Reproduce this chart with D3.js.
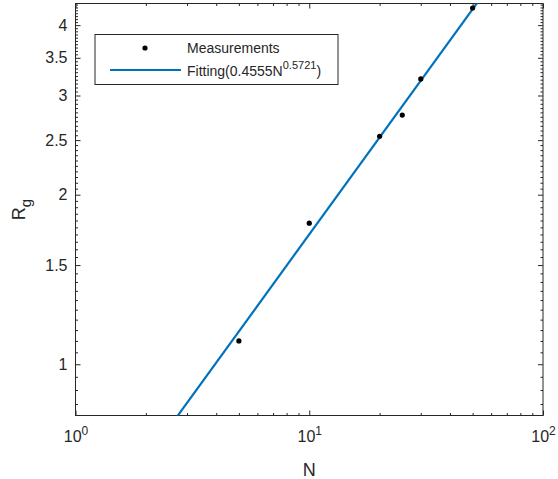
<!DOCTYPE html>
<html>
<head>
<meta charset="utf-8">
<title>Rg vs N</title>
<script src="https://d3js.org/d3.v7.min.js"></script>
<style>
  body { margin: 0; background: #fff; }
  text { font-family: "Liberation Sans", Arial, sans-serif; fill: #262626; }
</style>
</head>
<body>
<div id="chart"></div>
<script>
// measured points
const nValues = [5, 10, 20, 25, 30, 50];
const rgValues = [1.10, 1.78, 2.54, 2.77, 3.21, 4.29];

// fitting from the legend: a * N^b
const fitCoef = 0.4555;
const fitExp = 0.5721;
const fitN = [1, 100];

// axes
const xMajor = [1, 10, 100];
const xMinor = [2, 3, 4, 5, 6, 7, 8, 9, 20, 30, 40, 50, 60, 70, 80, 90];
const yMajor = [1, 1.5, 2, 2.5, 3, 3.5, 4];
const yMinor = [0.85, 0.9, 0.95, 1.05, 1.1, 1.15, 1.2, 1.25, 1.3, 1.35, 1.4, 1.45,
  1.55, 1.6, 1.65, 1.7, 1.75, 1.8, 1.85, 1.9, 1.95, 2.05, 2.1, 2.15, 2.2, 2.25, 2.3, 2.35, 2.4, 2.45,
  2.55, 2.6, 2.65, 2.7, 2.75, 2.8, 2.85, 2.9, 2.95, 3.05, 3.1, 3.15, 3.2, 3.25, 3.3, 3.35, 3.4, 3.45,
  3.55, 3.6, 3.65, 3.7, 3.75, 3.8, 3.85, 3.9, 3.95, 4.05, 4.1, 4.15, 4.2, 4.25, 4.3, 4.35];
const xDomain = [1, 100];
const yDomain = [0.811, 4.37];

const W = 558, H = 479;
const margin = {top: 3.5, right: 15, bottom: 63.5, left: 75.5};
const w = W - margin.left - margin.right;
const h = H - margin.top - margin.bottom;
const axisColor = "#262626";

const svg = d3.select("#chart").append("svg")
    .attr("width", W).attr("height", H);
const g = svg.append("g")
    .attr("transform", "translate(" + margin.left + "," + margin.top + ")");

const x = d3.scaleLog().domain(xDomain).range([0, w]);
const y = d3.scaleLog().domain(yDomain).range([h, 0]);

g.append("rect").attr("width", w).attr("height", h).attr("fill", "#fff");

// ticks (inward, on all four sides)
function tickAxis(axisFn, scale, values, size, transform, withLabels) {
  const ax = axisFn(scale).tickValues(values).tickSize(-size).tickSizeOuter(0);
  if (!withLabels) ax.tickFormat("");
  const sel = g.append("g").attr("transform", transform || null).call(ax);
  sel.select(".domain").remove();
  sel.selectAll("line").attr("stroke", axisColor).attr("stroke-width", 1);
  return sel;
}

tickAxis(d3.axisBottom, x, xMinor, 2.5, "translate(0," + h + ")", false);
tickAxis(d3.axisTop, x, xMinor, 2.5, null, false);
tickAxis(d3.axisLeft, y, yMinor, 2.5, null, false);
tickAxis(d3.axisRight, y, yMinor, 2.5, "translate(" + w + ",0)", false);
tickAxis(d3.axisTop, x, xMajor, 5, null, false);
tickAxis(d3.axisRight, y, yMajor, 5, "translate(" + w + ",0)", false);

const xAx = tickAxis(d3.axisBottom, x, xMajor, 5, "translate(0," + h + ")", true);
xAx.selectAll("text").each(function(d) {
  const t = d3.select(this).text("").attr("font-size", 16).attr("dy", null).attr("y", 26)
    .attr("text-anchor", "middle");
  t.append("tspan").text("10");
  t.append("tspan").attr("dy", -7).attr("font-size", 12).text(Math.round(Math.log10(d)));
});
xAx.attr("font-family", null);

const yAx = tickAxis(d3.axisLeft, y, yMajor, 5, null, true);
yAx.call(s => s.selectAll("text").attr("font-size", 16).attr("x", -8)
  .text(d => d3.format("")(d)));
yAx.attr("font-family", null);

// box
g.append("rect").attr("width", w).attr("height", h)
    .attr("fill", "none").attr("stroke", axisColor).attr("stroke-width", 1);

// clip
svg.append("clipPath").attr("id", "clip")
  .append("rect").attr("width", w).attr("height", h);

const line = d3.line()
    .x(d => x(d))
    .y(d => y(fitCoef * Math.pow(d, fitExp)));

g.append("path")
    .datum(fitN)
    .attr("clip-path", "url(#clip)")
    .attr("fill", "none")
    .attr("stroke", "#0072BD")
    .attr("stroke-width", 2.2)
    .attr("d", line);

g.selectAll(".pt")
    .data(nValues)
    .enter()
    .append("circle")
    .attr("class", "pt")
    .attr("clip-path", "url(#clip)")
    .attr("cx", d => x(d))
    .attr("cy", (d, i) => y(rgValues[i]))
    .attr("r", 2.6)
    .attr("fill", "#000");

// axis titles
svg.append("text")
    .attr("x", margin.left + w / 2)
    .attr("y", 476)
    .attr("text-anchor", "middle")
    .attr("font-size", 18)
    .text("N");

const yl = svg.append("text")
    .attr("transform", "translate(25," + (margin.top + h / 2) + ") rotate(-90)")
    .attr("text-anchor", "middle")
    .attr("font-size", 18);
yl.append("tspan").text("R");
yl.append("tspan").attr("dy", 6).attr("font-size", 15).text("g");

// legend
const lg = svg.append("g");
lg.append("rect")
    .attr("x", 95).attr("y", 34.5).attr("width", 243).attr("height", 50)
    .attr("fill", "#fff").attr("stroke", axisColor).attr("stroke-width", 1);
lg.append("circle").attr("cx", 145).attr("cy", 48).attr("r", 2.6).attr("fill", "#000");
lg.append("line").attr("x1", 110).attr("x2", 181).attr("y1", 70).attr("y2", 70)
    .attr("stroke", "#0072BD").attr("stroke-width", 2.2);
lg.append("text").attr("x", 187).attr("y", 53).attr("font-size", 14).text("Measurements");
const ft = lg.append("text").attr("x", 187).attr("y", 76).attr("font-size", 14);
ft.append("tspan").text("Fitting(0.4555N");
ft.append("tspan").attr("dy", -7).attr("font-size", 11).text("0.5721");
ft.append("tspan").attr("dy", 7).text(")");
</script>
</body>
</html>
